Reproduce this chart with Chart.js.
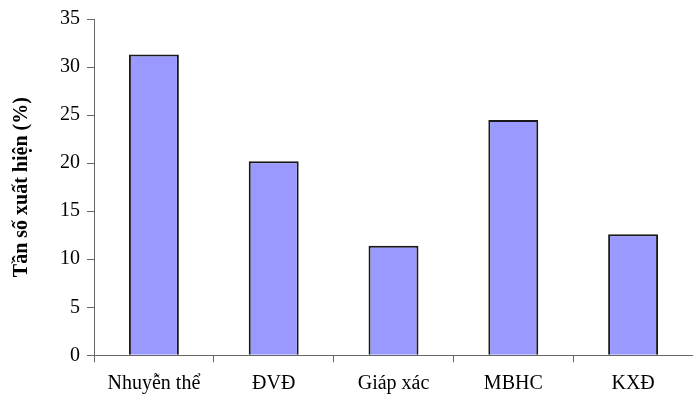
<!DOCTYPE html>
<html>
<head>
<meta charset="utf-8">
<script src="https://cdn.jsdelivr.net/npm/chart.js@4.4.1/dist/chart.umd.min.js"></script>
<style>
  html, body { margin: 0; padding: 0; background: #ffffff; overflow: hidden; }
  #wrap { width: 693px; height: 394px; }
</style>
</head>
<body>
<div id="wrap"><canvas id="chart" width="693" height="394"></canvas></div>
<script>
// Categories and their occurrence frequency (%)
const categories = ['Nhuyễn thể', 'ĐVĐ', 'Giáp xác', 'MBHC', 'KXĐ'];
const frequency = [31.3, 20.2, 11.4, 24.5, 12.6];
const yTicks = [0, 5, 10, 15, 20, 25, 30, 35];
const yTitle = 'Tần số xuất hiện (%)';

const axisColor = '#666666';
const serif = 'Liberation Serif, Times New Roman, serif';

new Chart(document.getElementById('chart'), {
  type: 'bar',
  data: {
    labels: categories,
    datasets: [{
      data: frequency,
      backgroundColor: '#9999FF',
      borderColor: '#1a1a1a',
      borderWidth: 2,
      categoryPercentage: 1.0,
      barPercentage: 0.417
    }]
  },
  options: {
    responsive: false,
    animation: false,
    devicePixelRatio: 1,
    layout: { padding: { top: 17, right: 0, left: 0, bottom: 0 } },
    plugins: { legend: { display: false }, tooltip: { enabled: false } },
    scales: {
      x: {
        offset: true,
        grid: {
          offset: true,
          drawOnChartArea: false,
          drawTicks: true,
          tickLength: 7,
          color: axisColor
        },
        border: { display: true, color: axisColor, width: 1 },
        ticks: {
          color: '#000',
          padding: 9,
          maxRotation: 0,
          autoSkip: false,
          font: { family: serif, size: 20 }
        },
        afterFit: s => { s.height = 38.7; }
      },
      y: {
        min: 0,
        max: 35,
        afterBuildTicks: s => { s.ticks = yTicks.map(v => ({ value: v })); },
        grid: {
          drawOnChartArea: false,
          drawTicks: true,
          tickLength: 7,
          color: axisColor
        },
        border: { display: true, color: axisColor, width: 1 },
        ticks: {
          color: '#000',
          padding: 7,
          font: { family: serif, size: 20 }
        },
        title: {
          display: true,
          text: yTitle,
          color: '#000',
          padding: { top: 10, bottom: 0 },
          font: { family: serif, size: 20, weight: 'bold' }
        },
        afterFit: s => { s.width = 94; }
      }
    }
  }
});
</script>
</body>
</html>
